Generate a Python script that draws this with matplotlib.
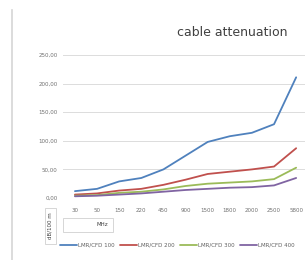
import matplotlib
matplotlib.use("Agg")
import matplotlib.pyplot as plt
from matplotlib.lines import Line2D
from matplotlib.patches import Rectangle

freqs = ["30", "50", "150", "220", "450", "900", "1500", "1800", "2000", "2500", "5800"]
lmr100 = [12, 16, 29, 35, 50, 74, 98, 108, 114, 129, 211]
lmr200 = [6, 8, 13, 16, 23, 32, 42, 46, 50, 55, 87]
lmr300 = [4, 5, 9, 11, 15, 21, 25, 27, 29, 33, 53]
lmr400 = [3, 4, 6, 8, 11, 14, 16, 18, 19, 22, 35]
series_names = ["LMR/CFD 100", "LMR/CFD 200", "LMR/CFD 300", "LMR/CFD 400"]
series = [lmr100, lmr200, lmr300, lmr400]
colors = ["#4F81BD", "#C0504D", "#9BBB59", "#8064A2"]
yticks = [0, 50, 100, 150, 200, 250]

W, H = 305, 260
fig = plt.figure(figsize=(W / 100, H / 100), dpi=100)
fig.patch.set_facecolor("white")

ax = fig.add_axes([63 / W, 1 - 198 / H, (W - 63) / W, (198 - 55) / H])
x = list(range(len(freqs)))
for vals, c, name in zip(series, colors, series_names):
    ax.plot(x, vals, color=c, lw=1.3, label=name, solid_capstyle="round")

ax.set_xlim(-0.54, 10.4)
ax.set_ylim(0, 250)
ax.set_yticks(yticks)
ax.set_yticklabels([f"{v:.2f}".replace(".", ",") for v in yticks])
ax.set_xticks(x)
ax.set_xticklabels(freqs)
ax.tick_params(axis="both", length=0, labelsize=4, colors="#707070")
ax.tick_params(axis="y", pad=4)
ax.tick_params(axis="x", pad=7)
ax.grid(axis="y", color="#dcdcdc", lw=0.7)
ax.set_axisbelow(True)
for s in ax.spines.values():
    s.set_visible(False)

# title
fig.text(232 / W, 1 - 33 / H, "cable attenuation", ha="center", va="center",
         fontsize=9, color="#404040")

# outer frame line at left
fig.add_artist(Line2D([12 / W, 12 / W], [0, 1 - 10 / H], color="#d5d5d5", lw=1.2))

# axis title boxes
fig.add_artist(Rectangle((45 / W, 1 - 244 / H), 11 / W, 36 / H, fill=False,
                         edgecolor="#d0d0d0", lw=0.6))
fig.text(50.5 / W, 1 - 226 / H, "dB/100 m", rotation=90, ha="center", va="center",
         fontsize=4, color="#404040")
fig.add_artist(Rectangle((63 / W, 1 - 232 / H), 50 / W, 14 / H, fill=False,
                         edgecolor="#d0d0d0", lw=0.6))
fig.text(102 / W, 1 - 225 / H, "MHz", ha="center", va="center",
         fontsize=4, color="#404040")

# legend
fig.legend(loc="center left", bbox_to_anchor=(60 / W, 1 - 245 / H), ncol=4,
           frameon=False, fontsize=4, handlelength=3.0, handletextpad=0.3,
           columnspacing=0.9, labelcolor="#606060", borderaxespad=0, borderpad=0)

fig.savefig("out.png", dpi=100)
